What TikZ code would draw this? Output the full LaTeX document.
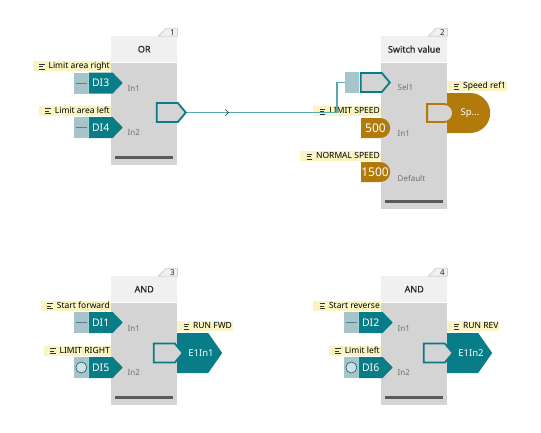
\documentclass[tikz,border=0pt]{standalone}
\usepackage{fontspec}
\setmainfont{Noto Sans}
\newfontfamily\fbdsemi{Noto Sans}[FakeBold=0.8]
\usetikzlibrary{positioning,shapes.symbols,shapes.misc,arrows.meta,decorations.markings}

\definecolor{fbdteal}{RGB}{8,124,135}
\definecolor{fbdwire}{RGB}{90,168,178}
\definecolor{fbdsq}{RGB}{168,196,203}
\definecolor{fbddash}{RGB}{88,128,138}
\definecolor{fbdbrown}{RGB}{178,122,10}
\definecolor{fbdtag}{RGB}{250,244,195}
\definecolor{fbdbody}{RGB}{212,212,212}
\definecolor{fbdhead}{RGB}{240,240,240}
\definecolor{fbdbar}{RGB}{90,90,90}
\definecolor{fbdpin}{RGB}{110,110,110}

\begin{document}
\begin{tikzpicture}[x=1pt, y=-1pt,
    headbox/.style={fill=fbdhead, minimum width=66pt, minimum height=26pt, inner sep=0pt,
        font=\fbdsemi\fontsize{9}{10}\selectfont, text=black!85},
    bodybox/.style={fill=fbdbody, minimum width=66pt, inner sep=0pt},
    numtab/.style={fill=fbdhead, draw=black!25, line width=0.5pt},
    numtxt/.style={font=\fontsize{8}{8}\selectfont, inner sep=0.5pt, text=black!85},
    bar/.style={draw=fbdbar, line width=3pt},
    tag/.style={fill=fbdtag, inner ysep=0.8pt, inner xsep=1pt, text height=6.5pt, text depth=1.8pt,
        font=\fontsize{8.5}{9}\selectfont, text=black,
        execute at begin node={\hspace*{15pt}},
        path picture={\draw[black!80, line width=0.7pt]
            ([xshift=6.5pt,yshift=2.5pt]path picture bounding box.west) -- ++(5.5,0)
            ([xshift=6.5pt]path picture bounding box.west) -- ++(4,0)
            ([xshift=6.5pt,yshift=-2.5pt]path picture bounding box.west) -- ++(5.5,0);}},
    disig/.style={signal, signal to=east, signal pointer angle=92, fill=fbdteal, text=white,
        minimum width=34pt, minimum height=21pt, inner sep=0pt, font=\fontsize{10.5}{11}\selectfont},
    disq/.style={fill=fbdsq, minimum width=14pt, minimum height=21pt, inner sep=0pt},
    sqdash/.style={path picture={\draw[fbddash, line width=1pt]
        ([xshift=1.5pt]path picture bounding box.west) -- ([xshift=-1.5pt]path picture bounding box.east);}},
    sqring/.style={path picture={\draw[fbdteal!80!black, fill=fbdsq!55!white, line width=0.6pt]
        (path picture bounding box.center) circle[radius=5.5pt];}},
    outport/.style={signal, signal to=east, signal pointer angle=100, draw=fbdteal, line width=1.8pt,
        fill=fbdbody, minimum width=29pt, minimum height=19pt, inner sep=0pt},
    eout/.style={signal, signal to=east, signal pointer angle=110, fill=fbdteal,
        minimum width=45pt, minimum height=40pt, inner sep=0pt},
    valbox/.style={rounded rectangle, rounded rectangle west arc=none, fill=fbdbrown,
        minimum width=29pt, minimum height=20pt, inner sep=0pt},
    brownout/.style={rounded rectangle, rounded rectangle west arc=none, fill=fbdbrown,
        minimum width=43pt, minimum height=40pt, inner sep=0pt},
    brownin/.style={rounded rectangle, rounded rectangle west arc=none, draw=fbdbrown, line width=1.8pt,
        fill=fbdbody, minimum width=26pt, minimum height=18pt, inner sep=0pt},
    valtxt/.style={text=white, inner sep=0pt, font=\fontsize{12}{12}\selectfont},
    outtxt/.style={text=white, inner sep=0pt, font=\fontsize{9.5}{10}\selectfont},
    pinname/.style={font=\fontsize{8}{8}\selectfont, text=fbdpin, inner sep=0pt, anchor=west},
    wire/.style={draw=fbdwire, line width=1.4pt}
]
\useasboundingbox (0,0) rectangle (541,432);

% function blocks
\foreach \blk/\bx/\by/\bh/\title in {1/111/36/102/OR, 2/381/36/146/Switch value,
        3/111/276/102/AND, 4/381/276/102/AND} {
    \node[headbox, anchor=north west] (h\blk) at (\bx,\by) {\title};
    \node[bodybox, minimum height=\bh pt, anchor=north west] (b\blk) at (h\blk.south west) {};
    \draw[numtab] ([xshift=-19pt]h\blk.north east) -- ++(8,-8) -- ++(11,0) -- (h\blk.north east) -- cycle;
    \node[numtxt, anchor=south east] (n\blk) at ([xshift=-2pt]h\blk.north east) {\blk};
    \draw[bar] ([xshift=4pt,yshift=7pt]b\blk.south west) -- ([xshift=-4pt,yshift=7pt]b\blk.south east);
}

% digital inputs
\foreach \id/\x/\y/\txt/\mark in {DI3/111/83/Limit area right/sqdash, DI4/111/127.5/Limit area left/sqdash,
        DI1/111/322.5/Start forward/sqdash, DI5/111/367.5/LIMIT RIGHT/sqring,
        DI2/381/322.5/Start reverse/sqdash, DI6/381/367.5/Limit left/sqring} {
    \node[disig, anchor=east] (\id) at (\x+12,\y) {\id};
    \node[disq, \mark, anchor=east] (sq\id) at (\id.west) {};
    \node[tag, anchor=south east] (tag\id) at (\x,\y-11.5) {\txt};
}

% switch value inputs
\node[outport, anchor=east] (sel1) at (391,82.5) {};
\node[disq, anchor=east] (sqsel1) at ([xshift=-0.9pt]sel1.west) {};
\node[tag, anchor=south east] (taglim) at (381,116.5) {LIMIT SPEED};
\node[valbox, anchor=west] (v500) at (361,128) {};
\node[valtxt] (t500) at ([xshift=14.5pt]v500.west) {500};
\node[tag, anchor=south east] (tagnorm) at (381,161.5) {NORMAL SPEED};
\node[valbox, anchor=west] (v1500) at (361,172) {};
\node[valtxt] (t1500) at ([xshift=14pt]v1500.west) {1500};

% outputs
\node[outport, anchor=east] (out1) at (187,112.5) {};
\node[brownout, anchor=west] (spd) at (447,113) {};
\node[brownin, anchor=east] (out2) at (454,113) {};
\node[outtxt] (tspd) at (470,113) {Sp...};
\node[tag, anchor=south west] (tagspd) at (447,91.5) {Speed ref1};
\node[eout, anchor=west] (E1In1) at (177,353) {};
\node[outport, anchor=east] (out3) at (184,353) {};
\node[outtxt] (tE1In1) at (201,353) {E1In1};
\node[tag, anchor=south west] (tagfwd) at (177,331.5) {RUN FWD};
\node[eout, anchor=west] (E1In2) at (447,353) {};
\node[outport, anchor=east] (out4) at (454,353) {};
\node[outtxt] (tE1In2) at (471,353) {E1In2};
\node[tag, anchor=south west] (tagrev) at (447,331.5) {RUN REV};

% pin names
\foreach \pin/\x/\y/\txt in {a/127.5/89/In1, b/127.5/133/In2, c/397.5/87/Sel1, d/397.5/134/In1,
        e/397.5/178/Default, f/127.5/329/In1, g/127.5/373/In2, h/397.5/329/In1, i/397.5/373/In2} {
    \node[pinname] (pin\pin) at (\x,\y) {\txt};
}

% connection
\draw[wire, postaction={decorate}, decoration={markings, mark=at position 42pt with
        {\arrow{Straight Barb[length=3pt, width=6pt, color=black!70, line width=0.8pt]}}}]
    (out1.east) -- ++(150,0) |- (sqsel1.west);
\end{tikzpicture}
\end{document}
